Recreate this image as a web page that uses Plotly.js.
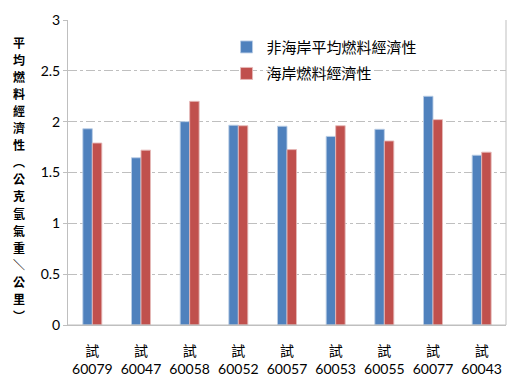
<!DOCTYPE html>
<html>
<head>
<meta charset="utf-8">
<script src="https://cdn.plot.ly/plotly-3.0.1.min.js"></script>
<style>html,body{margin:0;padding:0;background:#fff;}#chart{width:518px;height:381px;}</style>
</head>
<body>
<div id="chart"></div>
<script>
const categories = ['60079','60047','60058','60052','60057','60053','60055','60077','60043'];
const tickLabels = categories.map(c => '試<br>' + c);
const seriesNames = ['非海岸平均燃料經濟性', '海岸燃料經濟性'];
const inlandValues = [1.93, 1.645, 2.0, 1.965, 1.955, 1.855, 1.925, 2.25, 1.67];
const coastalValues = [1.79, 1.72, 2.2, 1.96, 1.725, 1.96, 1.81, 2.02, 1.70];
const yTitleChars = ['平','均','燃','料','經','濟','性','︵','公','克','氫','氣','重','＼','公','里','︶'];

const cjk = '"Noto Sans CJK TC", "Noto Sans CJK SC", sans-serif';
const num = 'Lato, "Noto Sans CJK TC", sans-serif';

const traces = [
  {type:'bar', x: categories, y: inlandValues, name: seriesNames[0], legendgroup:'a',
   marker:{color:'#4F81BD', line:{color:'rgba(185,205,229,0.9)', width:1}}},
  {type:'bar', x: categories, y: coastalValues, name: seriesNames[1], legendgroup:'b',
   marker:{color:'#C0504D', line:{color:'rgba(230,185,184,0.9)', width:1}}}
];

// vertical axis title: one annotation per character, spaced evenly
const plotTop = 20, plotH = 305, titleTop = 42, titleStep = 17.1;
const titleAnns = yTitleChars.map((ch, i) => ({
  xref:'paper', yref:'paper', x:-0.113,
  y: (plotTop + plotH - (titleTop + i * titleStep)) / plotH,
  xanchor:'center', yanchor:'middle', text: ch, showarrow:false, borderpad:0,
  font:{family:cjk, size:12, color:'#000', weight:'bold'}
}));

const layout = {
  width:518, height:381,
  margin:{l:68, r:12, t:20, b:56},
  paper_bgcolor:'#fff', plot_bgcolor:'#fff',
  barmode:'group', bargap:0.61, bargroupgap:0,
  showlegend:true,
  legend:{x:0.362, y:0.965, xanchor:'left', yanchor:'top', bgcolor:'rgba(0,0,0,0)',
          traceorder:'grouped', tracegroupgap:4,
          font:{family:cjk, size:15, color:'#000'}, itemwidth:30},
  xaxis:{type:'category', tickvals: categories, ticktext: tickLabels,
         tickfont:{family:num, size:14, color:'#000'},
         showgrid:false, showline:true, linecolor:'#bfbfbf', linewidth:1,
         ticks:'outside', ticklen:13, tickcolor:'rgba(0,0,0,0)', zeroline:false},
  yaxis:{range:[0,3], dtick:0.5,
         tickfont:{family:num, size:14, color:'#000'},
         showgrid:true, gridcolor:'#bfbfbf', griddash:'dashdot', gridwidth:1,
         showline:true, linecolor:'#bfbfbf', linewidth:1,
         ticks:'outside', ticklen:4, tickcolor:'#bfbfbf', zeroline:false},
  shapes:[
    {type:'line', xref:'paper', yref:'paper', x0:1, x1:1, y0:0, y1:1, line:{color:'#bfbfbf', width:1}},
    {type:'line', xref:'paper', yref:'y', x0:0, x1:1, y0:0, y1:0, line:{color:'#bfbfbf', width:1}}
  ],
  annotations: titleAnns
};

Plotly.newPlot('chart', traces, layout, {displayModeBar:false, staticPlot:true});
</script>
</body>
</html>
